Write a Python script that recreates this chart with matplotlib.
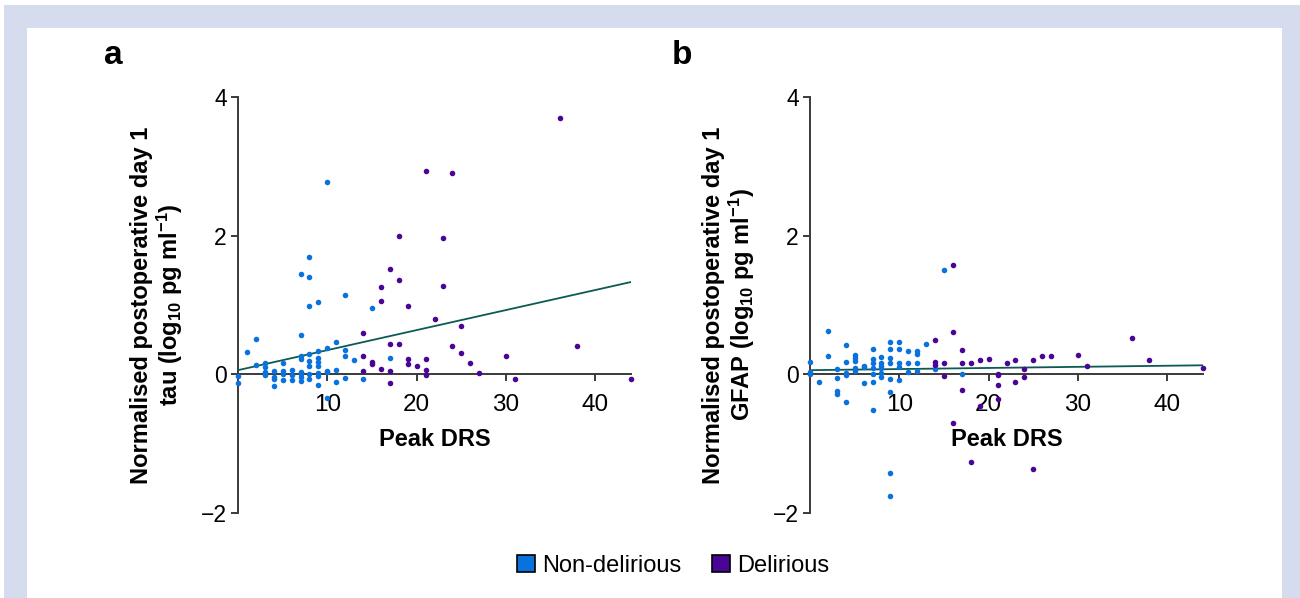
import matplotlib
matplotlib.use("Agg")
import matplotlib.pyplot as plt
from matplotlib.patches import Rectangle, Patch
import numpy as np

# ---------------- data ----------------
tau_nd_x = [0, 0, 1, 2, 2, 3, 3, 3, 3, 4, 4, 4, 4, 5, 5, 5, 5, 6, 6, 6,
            7, 7, 7, 7, 7, 7, 7, 7, 8, 8, 8, 8, 8, 8, 8, 8,
            9, 9, 9, 9, 9, 9, 9, 9, 10, 10, 10, 10, 10,
            11, 11, 11, 12, 12, 12, 12, 13, 14, 15, 17]
tau_nd_y = [-0.02, -0.12, 0.32, 0.51, 0.14, 0.16, 0.10, 0.03, -0.01, 0.05, -0.04, -0.07, -0.17,
            0.16, 0.05, 0.00, -0.08, 0.06, -0.01, -0.08,
            1.44, 0.57, 0.27, 0.22, 0.04, 0.00, -0.04, -0.09,
            1.69, 1.41, 0.98, 0.30, 0.19, 0.12, 0.01, -0.07,
            1.04, 0.34, 0.24, 0.18, 0.12, 0.02, -0.03, -0.15,
            2.78, 0.38, 0.05, 0.03, -0.34,
            0.46, 0.06, -0.11, 1.14, 0.35, 0.26, -0.05, 0.20, -0.07, 0.95, 0.23]
tau_d_x = [14, 14, 14, 15, 15, 16, 16, 16, 17, 17, 17, 17, 18, 18, 18, 19, 19, 19, 20,
           21, 21, 21, 21, 22, 23, 23, 24, 24, 25, 25, 26, 27, 30, 31, 36, 38, 44]
tau_d_y = [0.59, 0.26, 0.05, 0.18, 0.15, 1.26, 1.06, 0.07, 1.52, 0.44, 0.05, -0.12,
           1.99, 1.36, 0.44, 0.99, 0.22, 0.15, 0.12, 2.93, 0.22, 0.06, -0.01, 0.80,
           1.97, 1.27, 2.90, 0.41, 0.69, 0.31, 0.16, 0.02, 0.26, -0.07, 3.70, 0.41, -0.07]

gfap_nd_x = [0, 0, 0, 1, 2, 2, 3, 3, 3, 3, 4, 4, 4, 4, 4, 5, 5, 5, 5, 5, 6, 6, 6,
             7, 7, 7, 7, 7, 7, 7, 8, 8, 8, 8, 8, 8,
             9, 9, 9, 9, 9, 9, 9, 9, 10, 10, 10, 10, 10,
             11, 11, 11, 12, 12, 12, 12, 13, 14, 15, 17]
gfap_nd_y = [0.18, 0.03, 0.01, -0.11, 0.62, 0.26, 0.07, -0.06, -0.24, -0.29,
             0.42, 0.18, 0.02, -0.01, -0.40, 0.28, 0.24, 0.19, 0.09, 0.05,
             0.12, 0.10, -0.13, 0.36, 0.22, 0.17, 0.09, 0.00, -0.11, -0.51,
             0.25, 0.17, 0.12, 0.09, 0.02, -0.04,
             0.46, 0.37, 0.24, 0.16, -0.07, -0.25, -1.43, -1.76,
             0.47, 0.36, 0.17, 0.10, -0.08,
             0.34, 0.17, 0.03, 0.34, 0.29, 0.17, 0.05, 0.44, 0.08, 1.50, 0.01]
gfap_d_x = [14, 14, 14, 15, 15, 16, 16, 16, 17, 17, 17, 18, 18, 19, 19, 20,
            21, 21, 21, 21, 22, 23, 23, 24, 24, 25, 25, 26, 27, 30, 31, 36, 38, 44]
gfap_d_y = [0.50, 0.18, 0.13, 0.16, -0.03, 1.57, 0.61, -0.70, 0.35, 0.17, -0.23,
            0.17, -1.26, 0.21, -0.46, 0.22, 0.01, -0.01, -0.15, -0.36, 0.16,
            0.21, -0.11, 0.07, -0.04, 0.20, -1.36, 0.27, 0.27, 0.28, 0.12, 0.53, 0.20, 0.09]

# regression lines (intercept, slope)
tau_fit = (0.06, 0.0289)
gfap_fit = (0.06, 0.0016)

x_ticks = [10, 20, 30, 40]
y_ticks = [-2, 0, 2, 4]
ylabels = ["Normalised postoperative day 1\ntau (log$_{10}$ pg ml$^{-1}$)",
           "Normalised postoperative day 1\nGFAP (log$_{10}$ pg ml$^{-1}$)"]
panel_letters = ["a", "b"]
legend_labels = ["Non-delirious", "Delirious"]

# ---------------- style ----------------
plt.rcParams['font.family'] = ['Liberation Sans', 'DejaVu Sans']
plt.rcParams['mathtext.fontset'] = 'custom'
plt.rcParams['mathtext.rm'] = 'Liberation Sans:bold'
plt.rcParams['mathtext.bf'] = 'Liberation Sans:bold'
plt.rcParams['mathtext.it'] = 'Liberation Sans:bold'
plt.rcParams['mathtext.default'] = 'bf'

BLUE = "#0a72dc"
PURPLE = "#4a0596"
LINE = "#0d5a55"
SPINE = "#3a3a3a"
BORDER = "#d4dcee"

fig = plt.figure(figsize=(13, 5.98), dpi=100)
fig.patch.set_facecolor("white")
W, H = 1300, 598
fig.add_artist(Rectangle((4 / W, 0), 1 - 4 / W, 1 - 5 / H, transform=fig.transFigure,
                         facecolor=BORDER, edgecolor="none", zorder=-10))
fig.add_artist(Rectangle((27 / W, 0), (1282 - 27) / W, 1 - 28 / H, transform=fig.transFigure,
                         facecolor="white", edgecolor="none", zorder=-9))

bottom = 1 - 513 / H
height = (513 - 97) / H
axes_specs = [
    (238 / W, 393 / W, tau_nd_x, tau_nd_y, tau_d_x, tau_d_y, tau_fit, (113, 55)),
    (810 / W, 393 / W, gfap_nd_x, gfap_nd_y, gfap_d_x, gfap_d_y, gfap_fit, (682, 55)),
]

for i, (left, width, nx, ny, dx, dy, fit, letter_pos) in enumerate(axes_specs):
    ax = fig.add_axes([left, bottom, width, height])
    ax.set_facecolor("none")
    ax.set_xlim(0, 44)
    ax.set_ylim(-2, 4)
    for s in ["top", "right"]:
        ax.spines[s].set_visible(False)
    ax.spines["bottom"].set_position(("data", 0))
    for s in ["left", "bottom"]:
        ax.spines[s].set_color(SPINE)
        ax.spines[s].set_linewidth(1.4)
    ax.set_xticks(x_ticks)
    ax.set_yticks(y_ticks)
    ax.tick_params(axis="x", direction="out", length=5, width=1.4, color=SPINE,
                   labelsize=17.5, pad=9)
    ax.tick_params(axis="y", direction="out", length=5, width=1.4, color=SPINE,
                   labelsize=16.5, pad=3)
    ax.yaxis.set_major_formatter(matplotlib.ticker.FuncFormatter(
        lambda v, p: ("\u2212%d" % abs(v)) if v < 0 else "%d" % v))

    xs = np.array([0, 44])
    ax.plot(xs, fit[0] + fit[1] * xs, color=LINE, lw=1.3, zorder=3)
    ax.scatter(nx, ny, s=16, color=BLUE, linewidths=0, zorder=4, clip_on=False)
    ax.scatter(dx, dy, s=16, color=PURPLE, linewidths=0, zorder=4, clip_on=False)

    ax.set_xlabel("Peak DRS", fontsize=17, fontweight="bold")
    ax.xaxis.set_label_coords(0.5, (513 - 440) / 416)
    ax.xaxis.label.set_va("center")
    ax.set_ylabel(ylabels[i], fontsize=17, fontweight="bold", linespacing=1.1)
    ax.yaxis.set_label_coords(-0.205, 0.5)
    ax.yaxis.label.set_va("center")

    fig.text(letter_pos[0] / W, 1 - letter_pos[1] / H, panel_letters[i],
             fontsize=24, fontweight="bold", ha="center", va="center")

handles = [Patch(facecolor=BLUE, edgecolor="black", linewidth=1.2),
           Patch(facecolor=PURPLE, edgecolor="black", linewidth=1.2)]
fig.legend(handles, legend_labels, loc="center", bbox_to_anchor=(673 / W, 1 - 566 / H),
           ncol=2, frameon=False, fontsize=17, handlelength=0.75, handleheight=0.75,
           handletextpad=0.3, columnspacing=1.3, borderaxespad=0)

fig.savefig("out.png", dpi=100)
